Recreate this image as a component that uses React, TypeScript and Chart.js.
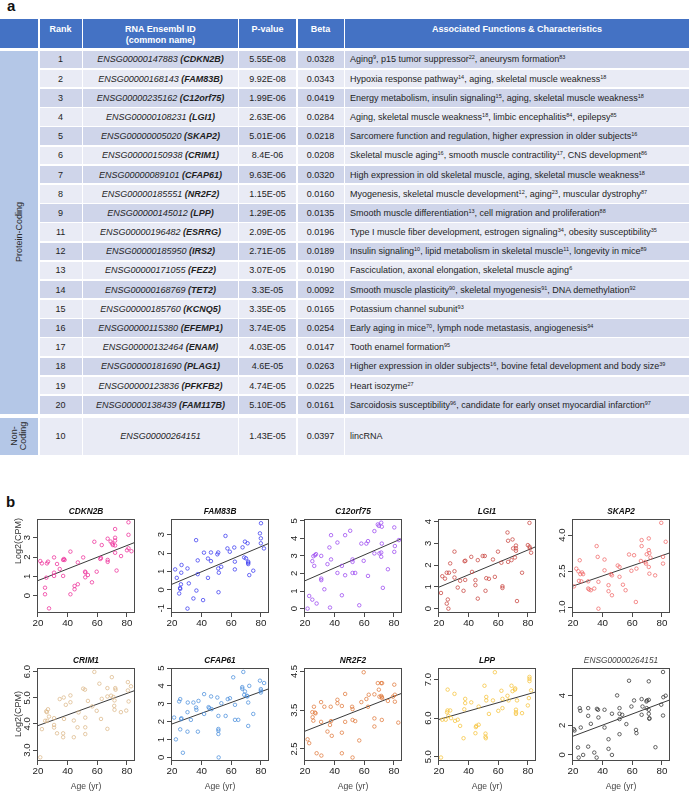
import React, { useEffect, useRef } from "react";
import { Chart, registerables } from "chart.js";

Chart.register(...registerables);

// ---------------- Table data ----------------
const ranks = ["1", "2", "3", "4", "5", "6", "7", "8", "9", "11", "12", "13", "14", "15", "16", "17", "18", "19", "20"];
const ensemblIds = [
  "ENSG00000147883", "ENSG00000168143", "ENSG00000235162", "ENSG00000108231", "ENSG00000005020",
  "ENSG00000150938", "ENSG00000089101", "ENSG00000185551", "ENSG00000145012", "ENSG00000196482",
  "ENSG00000185950", "ENSG00000171055", "ENSG00000168769", "ENSG00000185760", "ENSG00000115380",
  "ENSG00000132464", "ENSG00000181690", "ENSG00000123836", "ENSG00000138439",
];
const commonNames = [
  "CDKN2B", "FAM83B", "C12orf75", "LGI1", "SKAP2", "CRIM1", "CFAP61", "NR2F2", "LPP", "ESRRG",
  "IRS2", "FEZ2", "TET2", "KCNQ5", "EFEMP1", "ENAM", "PLAG1", "PFKFB2", "FAM117B",
];
const pValues = [
  "5.55E-08", "9.92E-08", "1.99E-06", "2.63E-06", "5.01E-06", "8.4E-06", "9.63E-06", "1.15E-05", "1.29E-05",
  "2.09E-05", "2.71E-05", "3.07E-05", "3.3E-05", "3.35E-05", "3.74E-05", "4.03E-05", "4.6E-05", "4.74E-05", "5.10E-05",
];
const betas = [
  "0.0328", "0.0343", "0.0419", "0.0284", "0.0218", "0.0208", "0.0320", "0.0160", "0.0135", "0.0196",
  "0.0189", "0.0190", "0.0092", "0.0165", "0.0254", "0.0147", "0.0263", "0.0225", "0.0161",
];
const functionsText = [
  "Aging^9, p15 tumor suppressor^22, aneurysm formation^83",
  "Hypoxia response pathway^14, aging, skeletal muscle weakness^18",
  "Energy metabolism, insulin signaling^15, aging, skeletal muscle weakness^18",
  "Aging, skeletal muscle weakness^18, limbic encephalitis^84, epilepsy^85",
  "Sarcomere function and regulation, higher expression in older subjects^16",
  "Skeletal muscle aging^16, smooth muscle contractility^17, CNS development^86",
  "High expression in old skeletal muscle, aging, skeletal muscle weakness^18",
  "Myogenesis, skeletal muscle development^12, aging^23, muscular dystrophy^87",
  "Smooth muscle differentiation^13, cell migration and proliferation^88",
  "Type I muscle fiber development, estrogen signaling^34, obesity susceptibility^35",
  "Insulin signaling^10, lipid metabolism in skeletal muscle^11, longevity in mice^89",
  "Fasciculation, axonal elongation, skeletal muscle aging^6",
  "Smooth muscle plasticity^90, skeletal myogenesis^91, DNA demethylation^92",
  "Potassium channel subunit^93",
  "Early aging in mice^70, lymph node metastasis, angiogenesis^94",
  "Tooth enamel formation^95",
  "Higher expression in older subjects^16, bovine fetal development and body size^39",
  "Heart isozyme^27",
  "Sarcoidosis susceptibility^96, candidate for early onset myocardial infarction^97",
];
const nonCodingRow = ["10", "ENSG00000264151", "1.43E-05", "0.0397", "lincRNA"];
const headerLabels = ["", "Rank", "RNA Ensembl ID\n(common name)", "P-value", "Beta", "Associated Functions & Characteristics"];

// ---------------- Scatter data ----------------
const xRange = [19.4, 85.4];
const xTicks = [20, 40, 60, 80];

const cdkn2bAge = [21.6, 22.7, 24.8, 24.8, 25.7, 26.1, 26.8, 27.5, 30.9, 30.9, 30.9, 32.9, 34.7, 37, 37, 37.5, 38, 41.9, 41.9, 44.7, 44.7, 46.9, 46.9, 50.5, 51.8, 51.9, 52, 53.7, 56.4, 58, 59.6, 62, 62.5, 63, 67, 67, 67, 69, 70, 70.5, 72, 72, 72, 72, 72, 73, 76, 80, 81, 81, 81, 83];
const cdkn2bVal = [1.79, 1.67, 0.41, 0.07, 0.93, 1.67, 1.76, -0.66, 1.98, 1.19, 1.02, 1.64, 1.38, 1.02, 1.85, 1.9, 1.85, 2.28, 0.07, 0.5, 0.33, 1.72, 0.59, 1.98, 1.24, 0.95, 1.2, 1.07, 0.69, 2.79, 1.24, 1.9, 1.95, 2.62, 2.95, 1.85, 1.75, 2.8, 2.7, 2.62, 3.45, 3.0, 2.85, 2.6, 2.22, 1.3, 2.05, 2.35, 3.8, 3.15, 2.45, 2.3];
const cdkn2bFit = [0.76, 2.76];

const fam83bAge = [22.2, 23.3, 24.9, 25.5, 25.6, 26.1, 26.5, 26.3, 30.5, 30.5, 31.4, 34.5, 36.3, 36.5, 37.4, 37.4, 41, 41.6, 44.3, 44.3, 46.3, 46.3, 50.6, 51.2, 51.2, 51.6, 51.4, 53.2, 56.1, 57.4, 59, 62, 62.4, 62.4, 67.6, 68.7, 69.2, 69.9, 71, 71.4, 71.4, 71.4, 72.1, 74.8, 79.3, 80, 79.9, 79.9, 82];
const fam83bVal = [1.11, 0.65, -0.2, 0.1, 0.05, 0.3, 1.35, 0.93, -1.02, 1.16, 0.35, -0.47, 2.7, -0.04, 1.6, 0.85, -0.56, 2.02, 0.65, 1.7, 1.56, 2.03, 1.93, 2.03, 1.16, 0.93, -0.13, 1.25, 2.93, 2.25, 2.07, 2.3, 1.53, 1.11, 2.31, 1.76, 2.62, 1.71, 2.53, 1.53, 1.47, 1.4, 0.8, 1.04, 3.07, 3.62, 2.8, 2.53, 2.25];
const fam83bFit = [0.28, 2.53];

const c12orf75Age = [21.8, 22.9, 25, 25, 25.7, 26.3, 26.8, 27.5, 27.9, 31, 31, 31, 33.1, 35.2, 36.5, 36.9, 37.6, 37.6, 41.9, 41.9, 44.9, 44.9, 47.1, 47.1, 50.5, 52.1, 52.1, 52.1, 53.9, 56.6, 58, 59.6, 61.4, 62.5, 62.5, 66.8, 66.8, 69.1, 69.8, 70.2, 71.4, 71.8, 71.8, 71.4, 71.4, 72.5, 75.9, 80.2, 80.2, 80.6, 83.3];
const c12orf75Val = [0, 0.72, 0.51, 2.7, 2.98, 2.43, 3.04, 3.1, 0.29, 3.0, 1.71, 1.62, 1.1, 2.53, 3.48, 0.06, 4.18, 2.8, 3.76, 2.03, 0.76, 2.43, 4.18, 1.9, 4.43, 2.8, 2.66, 2.03, 2.03, 0.19, 3.7, 2.72, 3.7, 3.84, 1.86, 4.41, 3.14, 4.79, 4.71, 3.14, 4.89, 4.66, 3.7, 3.19, 2.95, 1.18, 2.24, 4.62, 3.23, 3.56, 3.9];
const c12orf75Fit = [1.56, 3.99];

const lgi1Age = [21.4, 22.3, 24.1, 25.3, 25.3, 26, 26.4, 26.8, 27.6, 30.5, 30.5, 30.5, 32.7, 34.3, 36.6, 37.3, 37.8, 37.7, 41.8, 42.3, 44.6, 44.6, 46.2, 46.2, 49.5, 50.9, 51.4, 51.9, 53.7, 56.4, 57.7, 59.8, 62.1, 62.8, 62.8, 66.2, 66.6, 66.6, 68.9, 69.6, 70, 71.2, 71.9, 71.9, 71.9, 72.6, 76, 79.9, 81, 81, 81.3, 82.1];
const lgi1Val = [0.72, 1.49, 1.38, 1.65, 0.23, 0.42, 0, 1.65, 2.08, 1.72, 1.43, 2.62, 0.97, 1.28, 0.82, 2.18, 2.2, 1.32, 2.38, 1.69, 1.31, 1.08, 2.23, 0.46, 2.42, 2.42, 0.82, 1.4, 1.37, 2.26, 1.46, 2.62, 2.11, 1.03, 0.95, 3.5, 3.12, 2.15, 2.23, 3.18, 2.77, 2.35, 2.9, 2.77, 2.66, 0.35, 1.65, 2.92, 3.94, 2.85, 2.77, 2.57];
const lgi1Fit = [0.97, 2.85];

const skap2Age = [20.7, 22.3, 23.7, 24.1, 24.6, 25, 25.7, 26.2, 26.9, 30.3, 30.3, 31, 32.1, 34.4, 36, 36.7, 37.2, 37.2, 41.3, 41.3, 44, 44, 45.6, 46.3, 46.3, 50.2, 51.4, 51.4, 53.7, 55.5, 57.8, 59.4, 61.2, 62.4, 62.8, 65.8, 66.3, 66.3, 68.8, 69.2, 69.7, 71.1, 71.1, 71.1, 71.5, 71.5, 72.2, 75.4, 79.5, 80.7, 80.7, 82.5];
const skap2Val = [1.86, 2.6, 2.49, 2.09, 2.95, 2.37, 2.07, 2.44, 2.37, 2.07, 1.77, 1.73, 1.7, 1.77, 3.54, 3.09, 0.93, 2.05, 2.98, 2.53, 1.91, 1.66, 2.37, 1.49, 2.32, 2.73, 2.26, 2.67, 1.93, 1.7, 3.19, 2.51, 3.16, 1.21, 2.6, 2.92, 3.79, 3.54, 2.88, 2.81, 3.2, 3.86, 3.37, 2.67, 3.25, 2.39, 3.06, 2.32, 4.51, 3.09, 2.81, 3.72];
const skap2Fit = [1.86, 3.26];

const crim1Age = [21.6, 22.7, 24.9, 25.6, 26.1, 26.8, 27.5, 26.3, 30.9, 30.9, 30.9, 32.9, 34.7, 37, 37, 37.4, 37.6, 38.8, 41.9, 41.9, 44.2, 44.2, 46.7, 47.4, 50.5, 51.7, 51.9, 51.9, 51.9, 53.7, 56.6, 58, 59.6, 61.4, 62.5, 63, 66.8, 66.8, 66.8, 69.3, 69.8, 70.9, 72.1, 72.3, 71.6, 71.4, 71.6, 75.9, 79.5, 80.6, 80.6, 81.1, 82.7];
const crim1Val = [2.72, 3.8, 4.12, 4.48, 4.45, 4.56, 4.28, 4.12, 4.22, 3.96, 3.86, 3.64, 4.95, 3.64, 3.49, 5.01, 4.19, 4.73, 5.09, 4.83, 3.49, 4.13, 3.87, 4.44, 5.35, 5.31, 4.24, 3.87, 3.61, 4.88, 4.67, 5.99, 4.5, 5.54, 4.19, 4.96, 5.05, 5.37, 3.81, 5.08, 5.79, 5.03, 5.37, 5.31, 4.9, 4.69, 4.54, 4.45, 4.51, 5.6, 5.28, 4.86, 5.44];
const crim1Fit = [3.92, 5.28];

const cfap61Age = [21.5, 22.7, 24.9, 25.6, 25.6, 26.2, 26.4, 27.4, 30.5, 30.5, 30.7, 32.8, 34.5, 36.3, 36.5, 37.5, 37.9, 41.7, 41.7, 44.7, 45.2, 46.4, 46.8, 50.6, 51.3, 51.3, 51.3, 51.3, 51.5, 53.3, 56.2, 57.6, 59.1, 61.3, 62.5, 62.5, 64.7, 67.4, 67.4, 68.1, 68.7, 69.2, 70.5, 70.8, 71.4, 71.4, 72.1, 74.8, 79.3, 79.9, 79.9, 79.9, 82.1];
const cfap61Val = [2.23, 1.01, 3.13, 3.26, 1.57, 2.14, 2.19, 0.26, 1.44, 2.53, 3.07, 2.1, 3.07, 2.79, 2.66, 1.44, 3.16, 3.54, 2.43, 2.81, 2.75, 3.41, 2.7, 3.35, 2.32, 1.59, 1.5, 1.31, 0, 3.03, 2.32, 3.26, 3.31, 4.48, 2.1, 2.94, 2.1, 3.93, 3.84, 4.78, 3.5, 3.69, 3.45, 3.41, 3.07, 1.76, 4.0, 2.43, 4.29, 3.82, 3.73, 3.63, 4.16];
const cfap61Fit = [1.85, 3.84];

const nr2f2Age = [21.8, 22.9, 25, 25.2, 25.7, 26.1, 26.8, 27.2, 27.9, 30.9, 30.9, 31.1, 33.1, 35.2, 36.9, 37.6, 37.4, 38.1, 41.9, 41.9, 44.9, 44.9, 44.9, 47.1, 47.1, 51.8, 52.1, 52.1, 52.1, 53.9, 56.6, 58, 59.6, 61.4, 62.5, 63, 66.8, 66.8, 66.8, 69.1, 69.8, 70.2, 71.4, 72, 71.4, 71.8, 72, 71.8, 75.9, 79.3, 80.2, 80.6, 80.6, 82.9];
const nr2f2Val = [2.75, 2.65, 3.45, 3.32, 3.23, 3.59, 3.44, 3.42, 2.39, 3.71, 3.2, 2.33, 3.59, 2.95, 3.12, 3.22, 3.59, 2.84, 3.77, 3.68, 3.61, 2.92, 2.39, 3.92, 3.2, 3.59, 3.53, 2.28, 3.25, 3.22, 2.72, 3.71, 4.48, 3.79, 3.59, 3.9, 3.91, 3.29, 3.08, 4.2, 4.03, 3.85, 4.2, 4.2, 3.87, 3.84, 3.81, 3.25, 3.74, 3.85, 4.16, 3.9, 3.72, 3.18];
const nr2f2Fit = [2.95, 3.94];

const lppAge = [21.4, 22.3, 24.6, 25.5, 25.8, 25.9, 26.4, 27.6, 28.2, 30.5, 30.9, 32.7, 34.3, 36.6, 37.1, 37.7, 37.7, 41.8, 44.6, 44.9, 45.2, 46.8, 46.8, 50.7, 51.4, 51.4, 51.6, 51.9, 51.9, 53.7, 56.4, 57.7, 60, 62.1, 62.8, 62.8, 66.2, 66.9, 68.9, 69.6, 71.2, 71.4, 71.9, 71.9, 71.9, 72.6, 76, 79.9, 80.6, 81, 81, 81, 82.1];
const lppVal = [4.98, 5.96, 5.96, 6.15, 6.2, 6.74, 6.06, 6.2, 6.0, 6.63, 5.93, 5.96, 5.8, 5.48, 6.23, 6.5, 6.39, 6.41, 5.61, 5.77, 5.8, 5.83, 6.3, 6.84, 5.6, 5.52, 5.48, 6.55, 6.46, 6.11, 6.46, 7.19, 6.19, 6.71, 6.26, 6.5, 6.58, 6.46, 6.84, 6.7, 6.74, 6.77, 6.22, 6.15, 6.11, 6.46, 6.13, 6.33, 6.52, 7.07, 7.02, 6.96, 6.72];
const lppFit = [5.96, 6.68];

const ensgAge = [20.7, 21.1, 23.4, 23.9, 24.6, 25, 25.3, 26.9, 30.3, 30.3, 30.3, 32.1, 34.4, 36, 36.2, 36.9, 37.2, 41.3, 41.3, 44, 44, 46.3, 46.3, 49.8, 51.4, 51.4, 51.4, 51.4, 53.2, 56, 57.8, 59.4, 61.2, 62.5, 62.8, 66.3, 66.3, 66.9, 69.5, 69.9, 69.7, 71.1, 71.1, 71.1, 71.1, 71.5, 71.5, 75.6, 79.5, 80.7, 80.9, 82.5, 80.7];
const ensgVal = [1.74, 1.65, 0.5, -0.18, 3.16, 2.98, 1.85, 0, 3.16, 2.64, 0.56, 2.1, 0.16, -0.18, 3.11, 3.05, 2.53, 3.05, 1.85, 1.06, 0.41, 0, 2.78, 4.02, 3.16, 2.78, 2.42, 1.4, 2.71, 2.08, 5.01, 3.27, 3.68, 1.69, 1.47, 3.77, 2.71, 3.27, 3.61, 3.68, 3.16, 4.97, 3.72, 3.05, 2.78, 2.48, 2.44, 0.52, 3.39, 5.6, 3.9, 4.0, 2.66];
const ensgFit = [1.24, 3.72];

const panelTitles = ["CDKN2B", "FAM83B", "C12orf75", "LGI1", "SKAP2", "CRIM1", "CFAP61", "NR2F2", "LPP", "ENSG00000264151"];
const panelAges = [cdkn2bAge, fam83bAge, c12orf75Age, lgi1Age, skap2Age, crim1Age, cfap61Age, nr2f2Age, lppAge, ensgAge];
const panelVals = [cdkn2bVal, fam83bVal, c12orf75Val, lgi1Val, skap2Val, crim1Val, cfap61Val, nr2f2Val, lppVal, ensgVal];
const panelFits = [cdkn2bFit, fam83bFit, c12orf75Fit, lgi1Fit, skap2Fit, crim1Fit, cfap61Fit, nr2f2Fit, lppFit, ensgFit];
const yRanges = [[-0.9, 3.97], [-1.26, 3.85], [-0.25, 5.1], [-0.2, 4.12], [0.75, 4.67], [2.58, 6.14], [-0.2, 5.0], [2.19, 4.59], [4.89, 7.3], [-0.41, 5.87]];
const yTickValues = [[0, 1, 2, 3], [-1, 0, 1, 2, 3], [0, 1, 2, 3, 4, 5], [0, 1, 2, 3, 4], [1.0, 2.5, 4.0], [3, 4, 5, 6], [0, 1, 2, 3, 4, 5], [2.5, 3.5, 4.5], [5, 6, 7], [0, 2, 4]];
const yTickLabels = [["0", "1", "2", "3"], ["-1", "0", "1", "2", "3"], ["0", "1", "2", "3", "4", "5"], ["0", "1", "2", "3", "4"], ["1.0", "2.5", "4.0"], ["3.0", "4.0", "5.0", "6.0"], ["0", "1", "2", "3", "4", "5"], ["2.5", "3.5", "4.5"], ["5.0", "6.0", "7.0"], ["0", "2", "4"]];
const panelColors = ["#ee2f9a", "#3a3af0", "#9a45f0", "#c8443f", "#f06a6a", "#dcb88a", "#4b8fdc", "#e07a3c", "#f5c33b", "#333333"];
const yAxisTitle = "Log2(CPM)";
const xAxisTitle = "Age (yr)";

// ---------------- Layout constants ----------------
const FONT = '"Liberation Sans", Arial, Helvetica, sans-serif';
const colEdges = [[0, 38], [39.5, 81.7], [83.2, 237.7], [239.2, 296], [297.5, 343.5], [345, 689]];
const HEADER_TOP = 19;
const HEADER_H = 28.7;
const ROW_TOP = 50.7;
const ROW_PITCH = 19.18;
const ROW_H = 17.6;
const NC_TOP = 417.5;
const NC_H = 37;
const C_HEADER = "#4472c4";
const C_CAT = "#b4c7e7";
const C_DARK = "#cfd5ea";
const C_LIGHT = "#e9ebf5";

const plotLefts = [37, 171, 304, 438, 572];
const Y_AXIS_W = 35;
const CANVAS_W = 134;
const rowLayout = [
  { top: 500, h: 140, padTop: 19, xAxisH: 27, yTitleCenter: 541 },
  { top: 640, h: 154, padTop: 28, xAxisH: 33, yTitleCenter: 714 },
];

function renderFunctions(text: string) {
  const parts = text.split(/(\^\d+)/);
  return (
    <span style={{ whiteSpace: "nowrap" }}>
      {parts.map((p, i) =>
        p.startsWith("^") ? (
          <sup key={i} style={{ fontSize: "5.5px", lineHeight: 0, verticalAlign: "3.5px" }}>{p.slice(1)}</sup>
        ) : (
          <span key={i}>{p}</span>
        )
      )}
    </span>
  );
}

function Cell(props: { left: number; top: number; width: number; height: number; bg: string; children?: any; style?: any }) {
  const { left, top, width, height, bg, children, style } = props;
  return (
    <div
      style={{
        position: "absolute",
        left,
        top,
        width,
        height,
        background: bg,
        display: "flex",
        alignItems: "center",
        justifyContent: "center",
        boxSizing: "border-box",
        fontSize: "9px",
        color: "#1e1e1e",
        whiteSpace: "nowrap",
        ...style,
      }}
    >
      {children}
    </div>
  );
}

function Table() {
  const cells: any[] = [];
  headerLabels.forEach((lab, c) => {
    const [l, r] = colEdges[c];
    const lines = lab.split("\n");
    cells.push(
      <Cell key={"h" + c} left={l} top={HEADER_TOP} width={r - l} height={HEADER_H} bg={C_HEADER}
        style={{ alignItems: "flex-start", flexDirection: "column", justifyContent: "flex-start", paddingTop: "4.5px", color: "#fff", fontWeight: "bold", lineHeight: "11px", textAlign: "center" }}>
        {lines.map((ln, i) => (
          <div key={i} style={{ width: "100%", textAlign: "center" }}>{ln}</div>
        ))}
      </Cell>
    );
  });
  const pcTop = ROW_TOP;
  const pcBottom = ROW_TOP + (ranks.length - 1) * ROW_PITCH + ROW_H;
  cells.push(
    <Cell key="catpc" left={colEdges[0][0]} top={pcTop} width={colEdges[0][1] - colEdges[0][0]} height={pcBottom - pcTop} bg={C_CAT}>
      <div style={{ transform: "rotate(-90deg)", fontSize: "9px", color: "#2a2a2a" }}>Protein-Coding</div>
    </Cell>
  );
  cells.push(
    <Cell key="catnc" left={colEdges[0][0]} top={NC_TOP} width={colEdges[0][1] - colEdges[0][0]} height={NC_H} bg={C_CAT}>
      <div style={{ transform: "rotate(-90deg)", fontSize: "9px", color: "#2a2a2a", textAlign: "center", lineHeight: "9px" }}>
        Non-<br />Coding
      </div>
    </Cell>
  );
  ranks.forEach((rk, i) => {
    const top = ROW_TOP + i * ROW_PITCH;
    const bg = i % 2 === 0 ? C_DARK : C_LIGHT;
    const vals = [
      rk,
      <span key="e"><i>{ensemblIds[i]} </i><b><i>({commonNames[i]})</i></b></span>,
      pValues[i],
      betas[i],
      renderFunctions(functionsText[i]),
    ];
    vals.forEach((v, j) => {
      const [l, r] = colEdges[j + 1];
      cells.push(
        <Cell key={`r${i}c${j}`} left={l} top={top} width={r - l} height={ROW_H} bg={bg}
          style={j === 4 ? { justifyContent: "flex-start", paddingLeft: "5px" } : {}}>
          {v}
        </Cell>
      );
    });
  });
  nonCodingRow.forEach((v, j) => {
    const [l, r] = colEdges[j + 1];
    cells.push(
      <Cell key={`nc${j}`} left={l} top={NC_TOP} width={r - l} height={NC_H} bg={C_LIGHT}
        style={j === 4 ? { justifyContent: "flex-start", paddingLeft: "5px" } : {}}>
        {j === 1 ? <i>{v}</i> : v}
      </Cell>
    );
  });
  return <>{cells}</>;
}

function Panel({ idx }: { idx: number }) {
  const ref = useRef<HTMLCanvasElement | null>(null);
  const row = idx < 5 ? 0 : 1;
  const col = idx % 5;
  const lay = rowLayout[row];
  const canvasLeft = plotLefts[col] - Y_AXIS_W;

  useEffect(() => {
    if (!ref.current) return;
    const color = panelColors[idx];
    const ages = panelAges[idx];
    const vals = panelVals[idx];
    const fit = panelFits[idx];
    const [yMin, yMax] = yRanges[idx];
    const tickVals = yTickValues[idx];
    const tickLabs = yTickLabels[idx];
    const title = panelTitles[idx];
    const isEnsg = title.startsWith("ENSG");

    const decor = {
      id: "decor" + idx,
      afterDraw(chart: any) {
        const { ctx, chartArea: a } = chart;
        const ys = chart.scales.y;
        ctx.save();
        ctx.strokeStyle = "#4a4a4a";
        ctx.lineWidth = 1;
        ctx.strokeRect(Math.round(a.left) + 0.5, Math.round(a.top) + 0.5, Math.round(a.right - a.left) - 1, Math.round(a.bottom - a.top) - 1);
        ctx.fillStyle = isEnsg ? "#444" : "#111";
        ctx.font = isEnsg ? `italic 8.3px ${FONT}` : `bold italic 8.3px ${FONT}`;
        ctx.textAlign = "center";
        ctx.textBaseline = "middle";
        ctx.fillText(title, (a.left + a.right) / 2, a.top - 7);
        ctx.fillStyle = "#222";
        ctx.font = `9.5px ${FONT}`;
        tickVals.forEach((v: number, k: number) => {
          const py = ys.getPixelForValue(v);
          ctx.save();
          ctx.translate(a.left - 7, py);
          ctx.rotate(-Math.PI / 2);
          ctx.textAlign = "center";
          ctx.textBaseline = "alphabetic";
          ctx.fillText(tickLabs[k], 0, 0);
          ctx.restore();
        });
        if (col === 0) {
          ctx.save();
          ctx.fillStyle = "#333";
          ctx.font = `9px ${FONT}`;
          ctx.translate(18.5 - canvasLeft, lay.yTitleCenter - lay.top);
          ctx.rotate(-Math.PI / 2);
          ctx.textAlign = "center";
          ctx.textBaseline = "middle";
          ctx.fillText(yAxisTitle, 0, 0);
          ctx.restore();
        }
        if (row === 1) {
          ctx.fillStyle = "#444";
          ctx.font = `8.6px ${FONT}`;
          ctx.textAlign = "center";
          ctx.textBaseline = "middle";
          ctx.fillText(xAxisTitle, (a.left + a.right) / 2, 787 - lay.top);
        }
        ctx.restore();
      },
    };

    const chart = new Chart(ref.current, {
      type: "scatter",
      data: {
        datasets: [
          {
            type: "scatter",
            data: ages.map((x: number, k: number) => ({ x, y: vals[k] })),
            pointRadius: 1.75,
            pointBorderWidth: 0.75,
            pointBorderColor: color,
            pointBackgroundColor: "rgba(0,0,0,0)",
            pointStyle: "circle",
          } as any,
          {
            type: "line",
            data: [
              { x: xRange[0], y: fit[0] },
              { x: xRange[1], y: fit[1] },
            ],
            borderColor: "#3a3a3a",
            borderWidth: 1,
            pointRadius: 0,
            showLine: true,
            fill: false,
          } as any,
        ],
      },
      options: {
        responsive: false,
        animation: false,
        devicePixelRatio: 1,
        events: [],
        layout: { padding: { top: lay.padTop, left: 0, right: CANVAS_W - Y_AXIS_W - 98, bottom: 0 }, autoPadding: false },
        plugins: { legend: { display: false }, tooltip: { enabled: false }, title: { display: false } },
        scales: {
          x: {
            type: "linear",
            min: xRange[0],
            max: xRange[1],
            afterBuildTicks: (s: any) => {
              s.ticks = xTicks.map((v) => ({ value: v }));
            },
            afterFit: (s: any) => {
              s.height = lay.xAxisH;
            },
            ticks: {
              autoSkip: false,
              maxRotation: 0,
              minRotation: 0,
              padding: 0,
              color: "#222",
              font: { size: 9.8, family: FONT },
              callback: (v: any) => String(v),
            },
            grid: { display: true, drawOnChartArea: false, drawTicks: true, tickLength: 4, color: "#4a4a4a", lineWidth: 1 },
            border: { display: false },
          },
          y: {
            type: "linear",
            min: yMin,
            max: yMax,
            afterBuildTicks: (s: any) => {
              s.ticks = tickVals.map((v: number) => ({ value: v }));
            },
            afterFit: (s: any) => {
              s.width = Y_AXIS_W;
            },
            ticks: { display: false },
            grid: { display: true, drawOnChartArea: false, drawTicks: true, tickLength: 4, color: "#4a4a4a", lineWidth: 1 },
            border: { display: false },
          },
        },
      } as any,
      plugins: [decor],
    });
    return () => chart.destroy();
  }, []);

  return (
    <canvas
      ref={ref}
      width={CANVAS_W}
      height={lay.h}
      style={{ position: "absolute", left: canvasLeft, top: lay.top, width: CANVAS_W, height: lay.h }}
    />
  );
}

export default function App() {
  return (
    <div
      style={{
        position: "absolute",
        left: 0,
        top: 0,
        width: 689,
        height: 794,
        overflow: "hidden",
        background: "#fff",
        fontFamily: FONT,
      }}
    >
      <div style={{ position: "absolute", left: 7, top: -2, fontSize: "15px", lineHeight: "15px", fontWeight: "bold", color: "#111" }}>a</div>
      <Table />
      <div style={{ position: "absolute", left: 6, top: 494, fontSize: "15px", lineHeight: "15px", fontWeight: "bold", color: "#111" }}>b</div>
      {panelTitles.map((_, i) => (
        <Panel key={i} idx={i} />
      ))}
    </div>
  );
}
